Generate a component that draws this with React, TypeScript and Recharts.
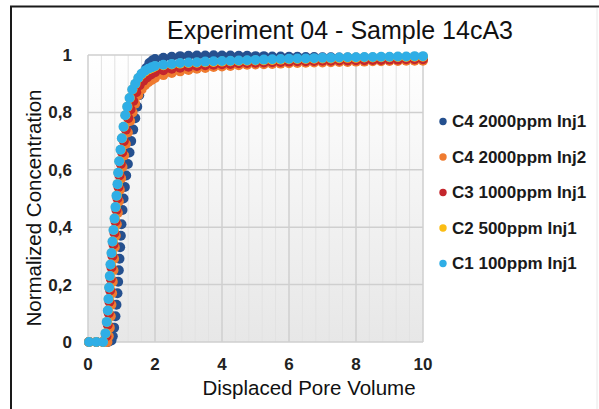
import React from 'react';
import { ScatterChart, Scatter, XAxis, YAxis, CartesianGrid } from 'recharts';

const FONT = '"Liberation Sans", Arial, Helvetica, sans-serif';

// ---------- axes ----------
const xTicks = [0, 2, 4, 6, 8, 10];
const yTicks = [0, 0.2, 0.4, 0.6, 0.8, 1];
const yTickLabels = ['0', '0,2', '0,4', '0,6', '0,8', '1'];

// ---------- series meta ----------
const seriesNames = ['C4 2000ppm Inj1', 'C4 2000ppm Inj2', 'C3 1000ppm Inj1', 'C2 500ppm Inj1', 'C1 100ppm Inj1'];
const seriesColors = ['#25508f', '#ef7b30', '#c4262d', '#fbbd14', '#2faee6'];

// ---------- shared plateau pore volumes ----------
const plateauPV = [2, 2.25, 2.5, 2.75, 3, 3.25, 3.5, 3.75, 4, 4.25, 4.5, 4.75, 5, 5.25, 5.5, 5.75, 6, 6.25, 6.5, 6.75, 7, 7.25, 7.5, 7.75, 8, 8.25, 8.5, 8.75, 9, 9.25, 9.5, 9.75, 10];

// ---------- C4 2000ppm Inj1 ----------
const c4i1RisePV = [0.03, 0.25, 0.45, 0.6, 0.7, 0.74, 0.78, 0.82, 0.85, 0.88, 0.9, 0.92, 0.94, 0.96, 0.98, 1.0, 1.03, 1.06, 1.1, 1.14, 1.19, 1.24, 1.29, 1.35, 1.41, 1.47, 1.53, 1.59, 1.66, 1.74, 1.83, 1.92];
const c4i1RiseConc = [0, 0, 0, 0, 0.005, 0.02, 0.05, 0.09, 0.13, 0.17, 0.21, 0.25, 0.29, 0.33, 0.37, 0.41, 0.46, 0.5, 0.54, 0.58, 0.62, 0.66, 0.7, 0.74, 0.78, 0.82, 0.86, 0.9, 0.93, 0.955, 0.972, 0.981];
const c4i1Plateau = [0.986, 0.99, 0.994, 0.996, 0.997, 0.998, 0.998, 0.999, 0.998, 0.998, 0.997, 0.997, 0.996, 0.996, 0.995, 0.995, 0.994, 0.994, 0.993, 0.993, 0.992, 0.992, 0.991, 0.991, 0.991, 0.99, 0.99, 0.99, 0.99, 0.989, 0.989, 0.989, 0.989];

// ---------- C4 2000ppm Inj2 ----------
const c4i2RisePV = [0.03, 0.25, 0.45, 0.58, 0.62, 0.65, 0.68, 0.7, 0.72, 0.74, 0.76, 0.78, 0.8, 0.83, 0.86, 0.89, 0.92, 0.95, 0.99, 1.03, 1.08, 1.13, 1.19, 1.26, 1.33, 1.41, 1.5, 1.6, 1.7, 1.8, 1.9];
const c4i2RiseConc = [0, 0, 0, 0, 0.02, 0.05, 0.09, 0.13, 0.17, 0.21, 0.25, 0.29, 0.33, 0.37, 0.41, 0.45, 0.49, 0.53, 0.57, 0.61, 0.65, 0.69, 0.73, 0.77, 0.8, 0.83, 0.86, 0.88, 0.895, 0.905, 0.913];
const c4i2Plateau = [0.92, 0.93, 0.937, 0.943, 0.948, 0.952, 0.955, 0.958, 0.96, 0.962, 0.964, 0.966, 0.967, 0.968, 0.969, 0.97, 0.971, 0.972, 0.973, 0.974, 0.974, 0.975, 0.976, 0.976, 0.977, 0.977, 0.978, 0.978, 0.979, 0.979, 0.98, 0.98, 0.98];

// ---------- C3 1000ppm Inj1 ----------
const c3RisePV = [0.03, 0.25, 0.45, 0.55, 0.59, 0.62, 0.64, 0.66, 0.68, 0.7, 0.73, 0.76, 0.79, 0.82, 0.85, 0.88, 0.91, 0.94, 0.98, 1.02, 1.07, 1.13, 1.2, 1.27, 1.35, 1.44, 1.54, 1.65, 1.76, 1.88];
const c3RiseConc = [0, 0, 0, 0.02, 0.06, 0.1, 0.14, 0.18, 0.22, 0.26, 0.3, 0.34, 0.38, 0.42, 0.46, 0.5, 0.54, 0.58, 0.62, 0.66, 0.7, 0.74, 0.78, 0.81, 0.84, 0.87, 0.895, 0.91, 0.922, 0.932];
const c3Plateau = [0.94, 0.947, 0.952, 0.956, 0.959, 0.962, 0.964, 0.966, 0.968, 0.969, 0.971, 0.972, 0.973, 0.974, 0.975, 0.976, 0.977, 0.978, 0.978, 0.979, 0.98, 0.98, 0.981, 0.981, 0.982, 0.982, 0.983, 0.983, 0.984, 0.984, 0.985, 0.985, 0.985];

// ---------- C2 500ppm Inj1 ----------
const c2RisePV = [0.03, 0.25, 0.45, 0.53, 0.57, 0.6, 0.62, 0.64, 0.66, 0.68, 0.71, 0.74, 0.77, 0.8, 0.83, 0.86, 0.89, 0.91, 0.94, 0.98, 1.02, 1.07, 1.12, 1.18, 1.25, 1.33, 1.42, 1.51, 1.61, 1.71, 1.81, 1.91];
const c2RiseConc = [0, 0, 0, 0.03, 0.07, 0.11, 0.15, 0.19, 0.23, 0.27, 0.31, 0.35, 0.39, 0.43, 0.47, 0.51, 0.55, 0.59, 0.63, 0.67, 0.71, 0.75, 0.79, 0.82, 0.85, 0.88, 0.9, 0.92, 0.933, 0.943, 0.95, 0.955];
const c2Plateau = [0.96, 0.964, 0.967, 0.97, 0.972, 0.973, 0.975, 0.976, 0.977, 0.978, 0.979, 0.98, 0.981, 0.982, 0.983, 0.984, 0.985, 0.986, 0.986, 0.987, 0.988, 0.988, 0.989, 0.99, 0.99, 0.991, 0.991, 0.992, 0.992, 0.993, 0.993, 0.994, 0.994];

// ---------- C1 100ppm Inj1 ----------
const c1RisePV = [0.03, 0.25, 0.45, 0.52, 0.56, 0.59, 0.61, 0.63, 0.65, 0.67, 0.7, 0.73, 0.76, 0.79, 0.82, 0.85, 0.88, 0.9, 0.93, 0.97, 1.01, 1.06, 1.11, 1.17, 1.24, 1.32, 1.41, 1.5, 1.6, 1.7, 1.8, 1.9];
const c1RiseConc = [0, 0, 0, 0.03, 0.07, 0.11, 0.15, 0.19, 0.23, 0.27, 0.31, 0.35, 0.39, 0.43, 0.47, 0.51, 0.55, 0.59, 0.63, 0.67, 0.71, 0.75, 0.79, 0.82, 0.85, 0.88, 0.9, 0.92, 0.935, 0.945, 0.952, 0.957];
const c1Plateau = [0.962, 0.966, 0.969, 0.972, 0.974, 0.975, 0.977, 0.978, 0.979, 0.98, 0.981, 0.982, 0.983, 0.984, 0.985, 0.986, 0.987, 0.988, 0.988, 0.989, 0.99, 0.99, 0.991, 0.992, 0.992, 0.993, 0.993, 0.994, 0.994, 0.995, 0.995, 0.996, 0.996];

const seriesRisePV = [c4i1RisePV, c4i2RisePV, c3RisePV, c2RisePV, c1RisePV];
const seriesRiseConc = [c4i1RiseConc, c4i2RiseConc, c3RiseConc, c2RiseConc, c1RiseConc];
const seriesPlateau = [c4i1Plateau, c4i2Plateau, c3Plateau, c2Plateau, c1Plateau];

const seriesData = seriesNames.map((_, s) => [
  ...seriesRisePV[s].map((x, i) => ({ x, y: seriesRiseConc[s][i] })),
  ...plateauPV.map((x, i) => ({ x, y: seriesPlateau[s][i] })),
]);

const minorX = Array.from({ length: 26 }, (_, i) => Math.round(i * 4) / 10).filter((v) => Math.abs(v / 2 - Math.round(v / 2)) > 1e-6);

const W = 599;
const H = 409;

const makeDot = (color: string) => (props: any) => {
  const { cx, cy } = props;
  if (cx == null || cy == null) return <g />;
  return <circle cx={cx} cy={cy} r={5} fill={color} />;
};

export default function App() {
  return (
    <div style={{ position: 'absolute', left: 0, top: 0, width: W, height: H, background: '#fff', fontFamily: FONT }}>
      <svg width={0} height={0} style={{ position: 'absolute' }}>
        <defs>
          <linearGradient id="plotBg" x1="0" y1="0" x2="0" y2="1">
            <stop offset="0%" stopColor="#ffffff" />
            <stop offset="100%" stopColor="#e7e7e7" />
          </linearGradient>
        </defs>
      </svg>
      <div style={{ position: 'absolute', left: 0, top: 0 }}>
        <ScatterChart width={W} height={H} margin={{ top: 55, right: 176, bottom: 37, left: 28 }}>
          <CartesianGrid
            fill="url(#plotBg)"
            fillOpacity={1}
            horizontal={false}
            stroke="#e2e2e2"
            strokeWidth={1}
            verticalCoordinatesGenerator={({ offset }: any) => minorX.map((v) => offset.left + (v / 10) * offset.width)}
          />
          <CartesianGrid stroke="#cfcfcf" strokeWidth={1.5} />
          <XAxis
            type="number"
            dataKey="x"
            domain={[0, 10]}
            ticks={xTicks}
            axisLine={false}
            tickLine={false}
            tickSize={0}
            tickMargin={16}
            height={30}
            tick={{ fontSize: 17, fontWeight: 700, fill: '#222', fontFamily: FONT }}
          />
          <YAxis
            type="number"
            dataKey="y"
            domain={[0, 1]}
            ticks={yTicks}
            axisLine={false}
            tickLine={false}
            tickSize={0}
            tickMargin={16}
            width={60}
            tickFormatter={(v: number) => yTickLabels[yTicks.indexOf(v)] ?? String(v)}
            tick={{ fontSize: 17, fontWeight: 700, fill: '#222', fontFamily: FONT }}
          />
          {seriesNames.map((name, s) => (
            <Scatter
              key={name}
              name={name}
              data={seriesData[s]}
              fill={seriesColors[s]}
              shape={makeDot(seriesColors[s])}
              isAnimationActive={false}
            />
          ))}
        </ScatterChart>
      </div>
      <svg width={W} height={H} style={{ position: 'absolute', left: 0, top: 0, pointerEvents: 'none' }}>
        <line x1={10} y1={6.5} x2={W} y2={6.5} stroke="#1a1a1a" strokeWidth={2} />
        <line x1={11} y1={6} x2={11} y2={H} stroke="#1a1a1a" strokeWidth={2} />
        <line x1={597} y1={8} x2={597} y2={H} stroke="#e8e8e8" strokeWidth={1} />
        <text x={340} y={39} textAnchor="middle" fontSize={25} fill="#111" fontFamily={FONT}>
          Experiment 04 - Sample 14cA3
        </text>
        <text x={309} y={395} textAnchor="middle" fontSize={20.5} fill="#111" fontFamily={FONT}>
          Displaced Pore Volume
        </text>
        <text
          x={0}
          y={0}
          transform="translate(41 208) rotate(-90)"
          textAnchor="middle"
          fontSize={20.5}
          fill="#111"
          fontFamily={FONT}
        >
          Normalized Concentration
        </text>
        {seriesNames.map((name, s) => (
          <g key={name}>
            <circle cx={443} cy={121.5 + s * 35.5} r={3.7} fill={seriesColors[s]} />
            <text x={452} y={121.5 + s * 35.5} dominantBaseline="central" fontSize={17} fontWeight={700} fill="#1a1a1a" fontFamily={FONT}>
              {name}
            </text>
          </g>
        ))}
      </svg>
    </div>
  );
}
